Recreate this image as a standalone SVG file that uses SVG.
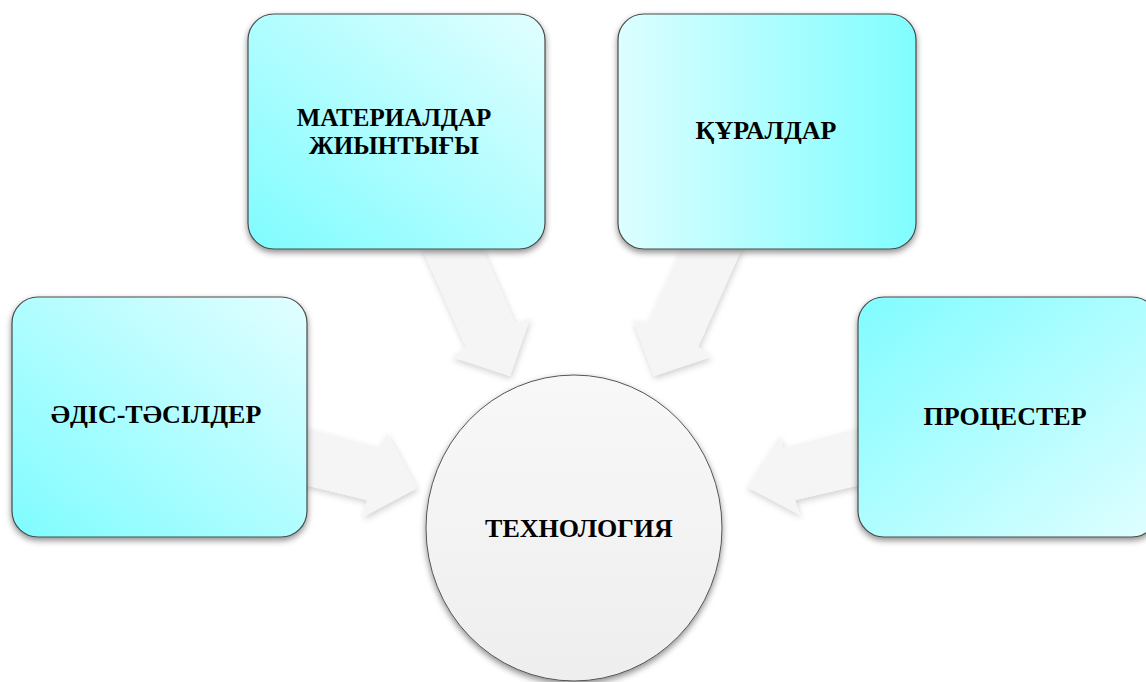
<svg xmlns="http://www.w3.org/2000/svg" width="1146" height="682" viewBox="0 0 1146 682">
<style>
.box{stroke:#4a4a4a;stroke-width:1.2}
.arrow{fill:#f5f5f5}
.lbl{font-family:"Liberation Serif","Times New Roman",serif;font-weight:bold;font-size:26px;fill:#000;text-anchor:middle}
.lbl2{font-size:25px}
</style>
<defs>
<linearGradient id="gBL" x1="0" y1="1" x2="1" y2="0">
<stop offset="0" stop-color="#7ffcff"/>
<stop offset="1" stop-color="#e2feff"/>
</linearGradient>
<linearGradient id="gLR" x1="0" y1="0" x2="1" y2="0">
<stop offset="0" stop-color="#dcfeff"/>
<stop offset="1" stop-color="#80fdff"/>
</linearGradient>
<linearGradient id="gTL" x1="0" y1="0" x2="1" y2="1">
<stop offset="0" stop-color="#80fcff"/>
<stop offset="1" stop-color="#e0feff"/>
</linearGradient>
<linearGradient id="gCirc" x1="0" y1="0" x2="0" y2="1">
<stop offset="0" stop-color="#f8f8f8"/>
<stop offset="1" stop-color="#eeeeee"/>
</linearGradient>
<filter id="shBox" x="-10%" y="-10%" width="120%" height="125%">
<feDropShadow dx="0" dy="3" stdDeviation="3" flood-color="#000" flood-opacity="0.45"/>
</filter>
<filter id="shArr" x="-20%" y="-20%" width="140%" height="140%">
<feDropShadow dx="1" dy="3" stdDeviation="3" flood-color="#000" flood-opacity="0.18"/>
</filter>
</defs>
<rect width="1146" height="682" fill="#fff"/>
<g id="connectors">
<polygon class="arrow" filter="url(#shArr)" points="422,248 466,347 452,357 510,376 530,318 515,323 482,248"/>
<polygon class="arrow" filter="url(#shArr)" points="742,248 698,347 711,357 654,376 633,320 648,323 682,248"/>
<polygon class="arrow" filter="url(#shArr)" points="305,428 380,448 387,433 417,488 363,517 367,500 305,485"/>
<polygon class="arrow" filter="url(#shArr)" points="860,428 783,448 780,436 747,487 800,515 795,500 860,485"/>
</g>
<g id="node-tech">
<ellipse cx="574" cy="528" rx="148" ry="153" fill="url(#gCirc)" stroke="#555" stroke-width="1" filter="url(#shBox)"/>
<text class="lbl" x="579" y="537">ТЕХНОЛОГИЯ</text>
</g>
<g id="node-materials">
<rect class="box" x="248" y="14" width="297" height="235" rx="26" fill="url(#gBL)" filter="url(#shBox)"/>
<text class="lbl lbl2" x="394" y="126">МАТЕРИАЛДАР</text>
<text class="lbl lbl2" x="394" y="154">ЖИЫНТЫҒЫ</text>
</g>
<g id="node-tools">
<rect class="box" x="618" y="14" width="298" height="235" rx="26" fill="url(#gLR)" filter="url(#shBox)"/>
<text class="lbl" x="766" y="139">ҚҰРАЛДАР</text>
</g>
<g id="node-methods">
<rect class="box" x="12" y="297" width="295" height="240" rx="26" fill="url(#gBL)" filter="url(#shBox)"/>
<text class="lbl" x="156" y="423">ӘДІС-ТӘСІЛДЕР</text>
</g>
<g id="node-processes">
<rect class="box" x="858" y="297" width="300" height="240" rx="26" fill="url(#gTL)" filter="url(#shBox)"/>
<text class="lbl" x="1005" y="425">ПРОЦЕСТЕР</text>
</g>
</svg>
